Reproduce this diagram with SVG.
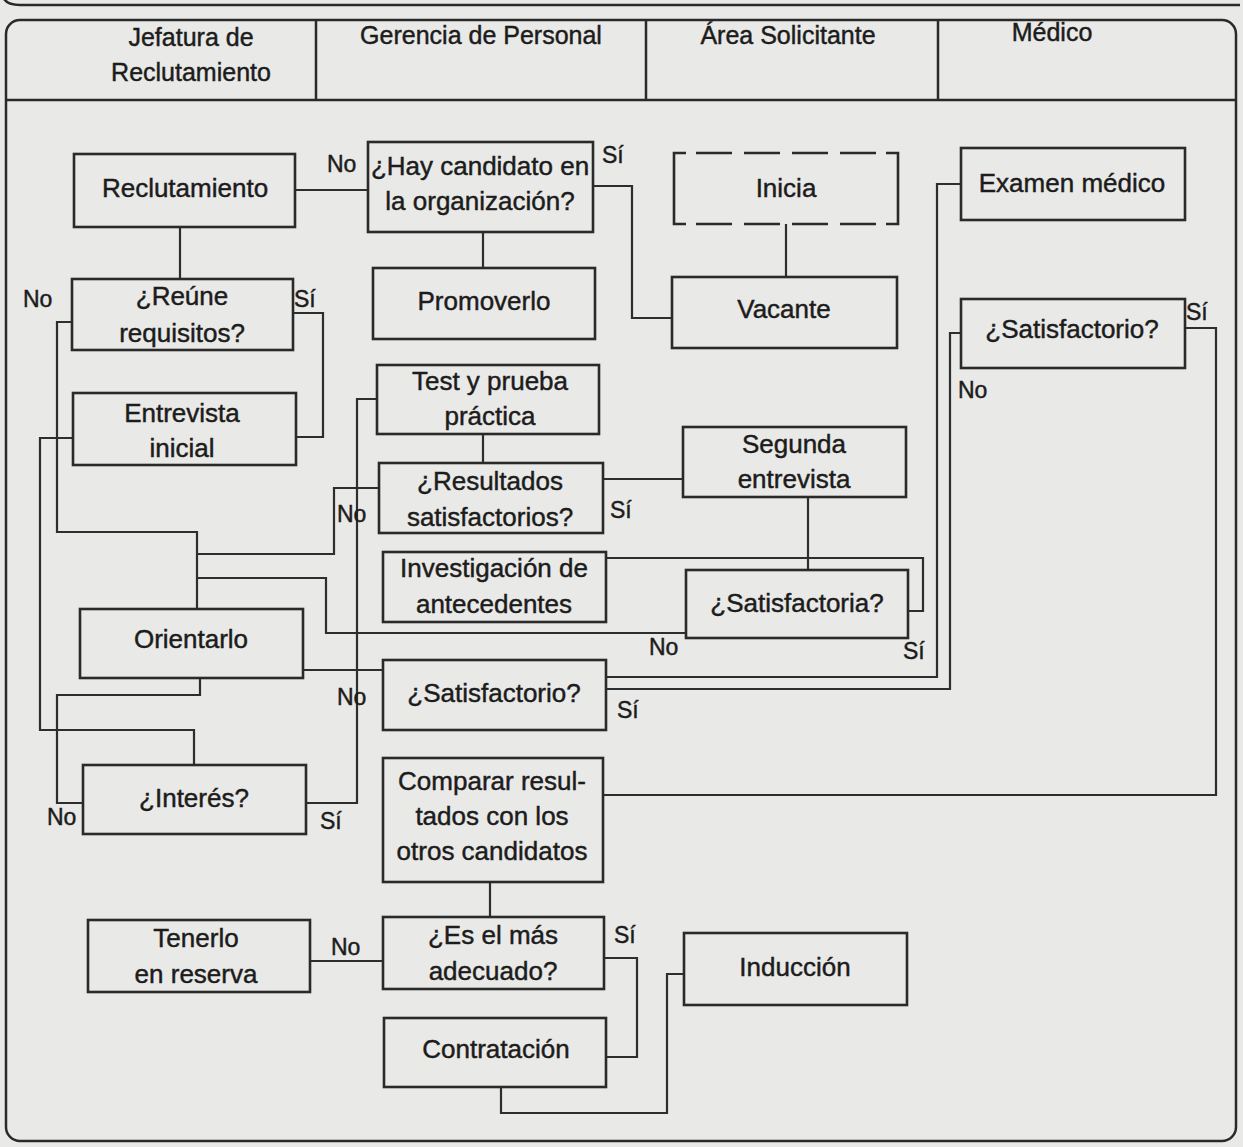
<svg xmlns="http://www.w3.org/2000/svg" width="1243" height="1147" viewBox="0 0 1243 1147">
<style>
.bg{fill:#e9e9e7}
.frame{fill:none;stroke:#2a2a2a;stroke-width:2.5}
.box{fill:none;stroke:#2a2a2a;stroke-width:2.6}
.dash{fill:none;stroke:#2a2a2a;stroke-width:2.6;stroke-dasharray:36 12}
.ln{fill:none;stroke:#2e2e2e;stroke-width:2.2}
text{font-family:"Liberation Sans",Arial,sans-serif;fill:#1c1c1c;stroke:#1c1c1c;stroke-width:0.45}
.t{font-size:26px;text-anchor:middle}
.h{font-size:25px;text-anchor:middle}
.lb{font-size:23px}
</style>
<rect class="bg" x="0" y="0" width="1243" height="1147"/>
<g id="frame">
<path class="frame" d="M 2 -6 Q 4 5 20 5 H 1240"/>
<rect class="frame" x="6" y="20" width="1230" height="1121" rx="14"/>
<path class="frame" d="M 6 100 H 1236 M 316 20 V 100 M 646 20 V 100 M 938 20 V 100"/>
<text class="h" x="191" y="46">Jefatura de</text>
<text class="h" x="191" y="81">Reclutamiento</text>
<text class="h" x="481" y="44">Gerencia de Personal</text>
<text class="h" x="788" y="44">Área Solicitante</text>
<text class="h" x="1052" y="41">Médico</text>
</g>
<g id="connectors">
<path class="ln" d="M 295 190 H 368"/>
<path class="ln" d="M 180 227 V 279"/>
<path class="ln" d="M 483 232 V 268"/>
<path class="ln" d="M 593 186 H 632 V 318 H 672"/>
<path class="ln" d="M 786 224 V 277"/>
<path class="ln" d="M 293 313 H 323 V 437 H 296"/>
<path class="ln" d="M 72 322 H 57 V 532 H 197 V 609"/>
<path class="ln" d="M 73 438 H 40 V 730 H 194 V 765"/>
<path class="ln" d="M 379 488 H 334 V 554 H 197"/>
<path class="ln" d="M 686 633 H 326 V 578 H 197"/>
<path class="ln" d="M 200 678 V 695 H 57 V 803 H 83"/>
<path class="ln" d="M 306 803 H 357 V 399 H 377"/>
<path class="ln" d="M 483 434 V 463"/>
<path class="ln" d="M 603 479 H 683"/>
<path class="ln" d="M 808 497 V 570"/>
<path class="ln" d="M 908 611 H 923 V 558 H 606"/>
<path class="ln" d="M 303 670 H 383"/>
<path class="ln" d="M 606 677 H 937 V 184 H 961"/>
<path class="ln" d="M 606 689 H 950 V 333 H 961"/>
<path class="ln" d="M 1185 328 H 1216 V 795 H 603"/>
<path class="ln" d="M 490 882 V 917"/>
<path class="ln" d="M 383 961 H 310"/>
<path class="ln" d="M 604 958 H 637 V 1057 H 606"/>
<path class="ln" d="M 501 1087 V 1113 H 667 V 974 H 684"/>
</g>
<g id="labels">
<text class="lb" x="327" y="172">No</text>
<text class="lb" x="602" y="163">Sí</text>
<text class="lb" x="23" y="307">No</text>
<text class="lb" x="294" y="307">Sí</text>
<text class="lb" x="337" y="522">No</text>
<text class="lb" x="610" y="518">Sí</text>
<text class="lb" x="649" y="655">No</text>
<text class="lb" x="903" y="659">Sí</text>
<text class="lb" x="337" y="705">No</text>
<text class="lb" x="617" y="718">Sí</text>
<text class="lb" x="47" y="825">No</text>
<text class="lb" x="320" y="829">Sí</text>
<text class="lb" x="331" y="955">No</text>
<text class="lb" x="614" y="943">Sí</text>
<text class="lb" x="1186" y="320">Sí</text>
<text class="lb" x="958" y="398">No</text>
</g>
<g id="n-reclutamiento"><rect class="box" x="74" y="154" width="221" height="73"/><text class="t" x="185" y="197">Reclutamiento</text></g>
<g id="n-hay-candidato"><rect class="box" x="368" y="142" width="225" height="90"/><text class="t" x="480" y="175">¿Hay candidato en</text><text class="t" x="480" y="210">la organización?</text></g>
<g id="n-inicia"><path class="box" d="M 686 153 H 674 V 224 H 686 M 886 153 H 898 V 224 H 886"/><path class="dash" d="M 696 153 H 878 M 696 224 H 878"/><text class="t" x="786" y="197">Inicia</text></g>
<g id="n-examen"><rect class="box" x="961" y="148" width="224" height="72"/><text class="t" x="1072" y="192">Examen médico</text></g>
<g id="n-reune"><rect class="box" x="72" y="279" width="221" height="71"/><text class="t" x="182" y="305">¿Reúne</text><text class="t" x="182" y="342">requisitos?</text></g>
<g id="n-promoverlo"><rect class="box" x="373" y="268" width="222" height="71"/><text class="t" x="484" y="310">Promoverlo</text></g>
<g id="n-vacante"><rect class="box" x="672" y="277" width="225" height="71"/><text class="t" x="784" y="318">Vacante</text></g>
<g id="n-satisfactorio-medico"><rect class="box" x="961" y="299" width="224" height="69"/><text class="t" x="1072" y="338">¿Satisfactorio?</text></g>
<g id="n-entrevista"><rect class="box" x="73" y="393" width="223" height="72"/><text class="t" x="182" y="422">Entrevista</text><text class="t" x="182" y="457">inicial</text></g>
<g id="n-test"><rect class="box" x="377" y="365" width="222" height="69"/><text class="t" x="490" y="390">Test y prueba</text><text class="t" x="490" y="425">práctica</text></g>
<g id="n-segunda"><rect class="box" x="683" y="427" width="223" height="70"/><text class="t" x="794" y="453">Segunda</text><text class="t" x="794" y="488">entrevista</text></g>
<g id="n-resultados"><rect class="box" x="379" y="463" width="224" height="70"/><text class="t" x="490" y="490">¿Resultados</text><text class="t" x="490" y="526">satisfactorios?</text></g>
<g id="n-investigacion"><rect class="box" x="383" y="552" width="223" height="70"/><text class="t" x="494" y="577">Investigación de</text><text class="t" x="494" y="613">antecedentes</text></g>
<g id="n-satisfactoria"><rect class="box" x="686" y="570" width="222" height="68"/><text class="t" x="797" y="612">¿Satisfactoria?</text></g>
<g id="n-orientarlo"><rect class="box" x="80" y="609" width="223" height="69"/><text class="t" x="191" y="648">Orientarlo</text></g>
<g id="n-satisfactorio"><rect class="box" x="383" y="660" width="223" height="70"/><text class="t" x="494" y="702">¿Satisfactorio?</text></g>
<g id="n-interes"><rect class="box" x="83" y="765" width="223" height="69"/><text class="t" x="194" y="807">¿Interés?</text></g>
<g id="n-comparar"><rect class="box" x="383" y="758" width="220" height="124"/><text class="t" x="492" y="790">Comparar resul-</text><text class="t" x="492" y="825">tados con los</text><text class="t" x="492" y="860">otros candidatos</text></g>
<g id="n-tenerlo"><rect class="box" x="88" y="920" width="222" height="72"/><text class="t" x="196" y="947">Tenerlo</text><text class="t" x="196" y="983">en reserva</text></g>
<g id="n-es-mas"><rect class="box" x="383" y="917" width="221" height="72"/><text class="t" x="493" y="944">¿Es el más</text><text class="t" x="493" y="980">adecuado?</text></g>
<g id="n-induccion"><rect class="box" x="684" y="933" width="223" height="72"/><text class="t" x="795" y="976">Inducción</text></g>
<g id="n-contratacion"><rect class="box" x="384" y="1018" width="222" height="69"/><text class="t" x="496" y="1058">Contratación</text></g>
</svg>
